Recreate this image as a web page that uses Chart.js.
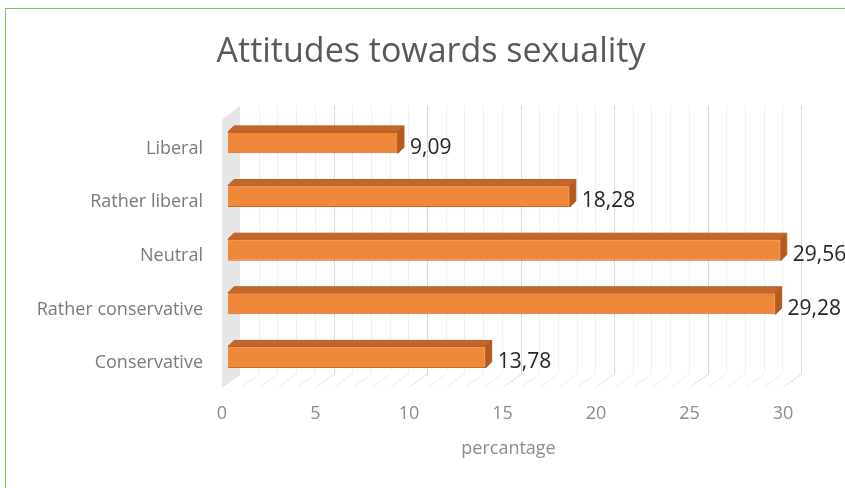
<!DOCTYPE html>
<html lang="en">
<head>
    <meta charset="UTF-8">
    <title>Attitudes towards sexuality</title>
    <script src="https://cdn.jsdelivr.net/npm/chart.js"></script>
    <style>
        html, body {
            margin: 0;
            padding: 0;
            background: white;
            overflow: hidden;
        }

        #frame {
            position: absolute;
            left: 5px;
            top: 8px;
            width: 900px;
            height: 600px;
            border: 1px solid #7cc85c;
        }

        #attitudeChart {
            position: absolute;
            left: 0;
            top: 0;
        }
    </style>
</head>
<body>
    <div id="frame"></div>
    <canvas id="attitudeChart" width="845" height="488"></canvas>

    <script>
        const categories = ["Liberal", "Rather liberal", "Neutral", "Rather conservative", "Conservative"];
        const percentages = [9.09, 18.28, 29.56, 29.28, 13.78];
        const axisMax = 30;
        const majorStep = 5;

        const FONT = "'Open Sans', 'Noto Sans', sans-serif";

        // fake the excel 3d look: side wall, back grid, floor, bar top and end faces
        const bar3d = {
            id: "bar3d",
            afterLayout(chart) {
                // centre title on whole chart frame, not on plot
                if (chart.titleBlock) {
                    chart.titleBlock.left = 0;
                    chart.titleBlock.right = 862;
                }
            },
            beforeDatasetsDraw(chart) {
                const ctx = chart.ctx;
                const x = chart.scales.x;
                const area = chart.chartArea;
                const backDx = 12, backTop = area.top - 10, backBottom = area.bottom - 10;
                const frontDx = -6, frontTop = area.top + 4, frontBottom = area.bottom + 3;
                const x0 = x.getPixelForValue(0);

                ctx.save();
                // left wall
                ctx.fillStyle = "#e6e6e6";
                ctx.beginPath();
                ctx.moveTo(x0 + frontDx, frontTop);
                ctx.lineTo(x0 + backDx, backTop);
                ctx.lineTo(x0 + backDx, backBottom);
                ctx.lineTo(x0 + frontDx, frontBottom);
                ctx.closePath();
                ctx.fill();

                for (let v = 0; v <= axisMax; v++) {
                    const px = Math.round(x.getPixelForValue(v)) + 0.5;
                    const major = v % majorStep === 0;
                    ctx.lineWidth = 1;
                    // back wall line
                    if (v > 0) {
                        ctx.strokeStyle = major ? "#d9d9d9" : "#efefef";
                        ctx.beginPath();
                        ctx.moveTo(px + backDx, backTop);
                        ctx.lineTo(px + backDx, backBottom);
                        ctx.stroke();
                    }
                    // floor line
                    ctx.strokeStyle = major ? "#dcdcdc" : "#ececec";
                    ctx.beginPath();
                    ctx.moveTo(px + backDx, backBottom);
                    ctx.lineTo(px + frontDx, frontBottom);
                    ctx.stroke();
                }
                ctx.restore();
            },
            afterDatasetsDraw(chart) {
                const ctx = chart.ctx;
                const meta = chart.getDatasetMeta(0);
                const d = 6;
                ctx.save();
                meta.data.forEach((bar, i) => {
                    const left = bar.base;
                    const right = bar.x;
                    const top = bar.y - bar.height / 2;
                    const bottom = bar.y + bar.height / 2;

                    // top face
                    ctx.fillStyle = "#c4672a";
                    ctx.strokeStyle = "#b85d22";
                    ctx.lineWidth = 1;
                    ctx.beginPath();
                    ctx.moveTo(left, top);
                    ctx.lineTo(left + d, top - d);
                    ctx.lineTo(right + d, top - d);
                    ctx.lineTo(right, top);
                    ctx.closePath();
                    ctx.fill();
                    ctx.stroke();

                    // end face
                    ctx.fillStyle = "#b35a20";
                    ctx.beginPath();
                    ctx.moveTo(right, top);
                    ctx.lineTo(right + d, top - d);
                    ctx.lineTo(right + d, bottom - d);
                    ctx.lineTo(right, bottom);
                    ctx.closePath();
                    ctx.fill();
                    ctx.stroke();

                    // value label
                    ctx.fillStyle = "#262626";
                    ctx.font = "21px " + FONT;
                    ctx.textAlign = "left";
                    ctx.textBaseline = "middle";
                    const txt = percentages[i].toFixed(2).replace(".", ",");
                    ctx.fillText(txt, right + d + 6, bar.y + 5);
                });
                ctx.restore();
            }
        };

        const ctx = document.getElementById("attitudeChart").getContext("2d");

        new Chart(ctx, {
            type: "bar",
            data: {
                labels: categories,
                datasets: [{
                    label: "percantage",
                    data: percentages,
                    backgroundColor: "#ef883b",
                    borderColor: "#d0661f",
                    borderWidth: 1,
                    barPercentage: 0.4,
                    categoryPercentage: 1
                }]
            },
            plugins: [bar3d],
            options: {
                indexAxis: "y",
                responsive: false,
                animation: false,
                layout: {
                    padding: { top: 0, left: 0, right: 56, bottom: 0 }
                },
                plugins: {
                    legend: { display: false },
                    tooltip: { enabled: false },
                    title: {
                        display: true,
                        text: "Attitudes towards sexuality",
                        color: "#595959",
                        font: { family: FONT, size: 34, weight: "normal" },
                        padding: { top: 32, bottom: 43 }
                    }
                },
                scales: {
                    x: {
                        min: 0,
                        max: axisMax,
                        grid: { display: false, drawTicks: false },
                        border: { display: false },
                        ticks: {
                            stepSize: majorStep,
                            padding: 19,
                            labelOffset: -6,
                            color: "#8c8c8c",
                            font: { family: FONT, size: 18 }
                        },
                        title: {
                            display: true,
                            text: "percantage",
                            color: "#8c8c8c",
                            font: { family: FONT, size: 18 },
                            padding: { top: 0, bottom: 28 }
                        },
                        afterFit(scale) {
                            scale.height = 104;
                        }
                    },
                    y: {
                        grid: { display: false, drawTicks: false },
                        border: { display: false },
                        ticks: {
                            padding: 25,
                            labelOffset: 6,
                            color: "#7a7a7a",
                            font: { family: FONT, size: 18 }
                        },
                        afterFit(scale) {
                            scale.width = 228;
                        }
                    }
                }
            }
        });
    </script>
</body>
</html>
